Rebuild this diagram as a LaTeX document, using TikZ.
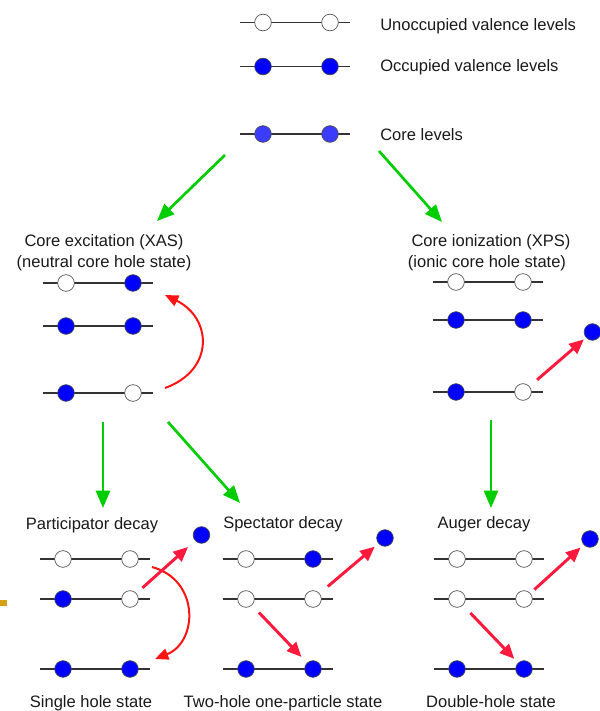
\documentclass[tikz,border=0pt]{standalone}
\usepackage{fontspec}
\setmainfont{Liberation Sans}
\usepackage{tikz}
\usetikzlibrary{arrows.meta,calc}

\definecolor{occblue}{RGB}{0,0,255}
\definecolor{coreblue}{RGB}{60,60,255}
\definecolor{arrgreen}{RGB}{0,205,0}
\definecolor{arrred}{RGB}{255,25,60}
\definecolor{curvered}{RGB}{255,20,20}
\definecolor{strayorange}{RGB}{214,160,20}

\tikzset{
  lvl/.style={draw=black!80, line width=0.8pt},
  empty/.style={circle, draw=black!70, fill=white, line width=0.5pt, minimum size=12.5pt, inner sep=0pt},
  occ/.style={empty, fill=occblue},
  core/.style={empty, fill=coreblue},
  lbl/.style={font=\fontsize{12.4}{15}\selectfont, text=black!90, inner sep=0pt, anchor=base},
  greenarr/.style={arrgreen, line width=2pt, -{Triangle[length=13pt,width=10.5pt]}},
  redarr/.style={arrred, line width=2.2pt, -{Triangle[length=11pt,width=9.5pt]}},
  redcurve/.style={curvered, line width=1.5pt, -{Triangle[length=10pt,width=8.5pt]}},
}

% one level: line with two electron places
\newcommand{\levelrow}[5]{%
  \draw[lvl] ({#2-23.5},#3) -- ({#2+86.5},#3);
  \node[#4] (#1L) at (#2,#3) {};
  \node[#5] (#1R) at ({#2+67},#3) {};
}

\begin{document}
\begin{tikzpicture}[x=0.75pt, y=-0.75pt]
    \useasboundingbox (0,0) rectangle (600,711);

    % legend
    \levelrow{un}{263}{22.5}{empty}{empty}
    \levelrow{oc}{263}{66.5}{occ}{occ}
    \levelrow{co}{263}{134}{core}{core}
    \node[lbl, anchor=base west] (unT) at (380,30.5) {Unoccupied valence levels};
    \node[lbl, anchor=base west] (ocT) at (380,71) {Occupied valence levels};
    \node[lbl, anchor=base west] (coT) at (380,140) {Core levels};

    % core excitation
    \node[lbl] (xasT) at (104,246.5) {Core excitation (XAS)};
    \node[lbl] (xasS) at (104,267) {(neutral core hole state)};
    \levelrow{xa1}{66}{283}{empty}{occ}
    \levelrow{xa2}{66}{326}{occ}{occ}
    \levelrow{xa3}{66}{393}{occ}{empty}
    \coordinate (xaA) at (165,388);
    \coordinate (xaB) at (165,295);
    \draw[redcurve] (xaA) .. controls (215,370) and (212,318) .. (xaB);

    % core ionization
    \node[lbl] (xpsT) at (491,246.5) {Core ionization (XPS)};
    \node[lbl] (xpsS) at (487,267) {(ionic core hole state)};
    \levelrow{xp1}{456}{282}{empty}{empty}
    \levelrow{xp2}{456}{320}{occ}{occ}
    \levelrow{xp3}{456}{392}{occ}{empty}
    \node[occ] (xpE) at (592.5,332) {};
    \draw[redarr, shorten <=7.5pt, shorten >=2pt] (xp3R) -- (xpE);

    % participator decay
    \node[lbl] (paT) at (92,529) {Participator decay};
    \levelrow{pa1}{63}{559}{empty}{empty}
    \levelrow{pa2}{63}{599}{occ}{empty}
    \levelrow{pa3}{63}{669}{occ}{occ}
    \node[occ] (paE) at (201.5,535) {};
    \node[lbl] (paB) at (91,707) {Single hole state};
    \coordinate (paA) at (152,567);
    \coordinate (paC) at (155,659);
    \draw[redcurve] (paA) .. controls (200,580) and (198,642) .. (paC);
    \draw[redarr, shorten <=6pt, shorten >=7pt] (pa2R) -- (paE);

    % spectator decay
    \node[lbl] (spT) at (283,528.5) {Spectator decay};
    \levelrow{sp1}{246}{559}{empty}{occ}
    \levelrow{sp2}{246}{599}{empty}{empty}
    \levelrow{sp3}{246}{669}{occ}{occ}
    \node[occ] (spE) at (385,538) {};
    \node[lbl] (spB) at (283,707) {Two-hole one-particle state};
    \draw[redarr, shorten <=8pt, shorten >=3.5pt] (sp2R) -- (spE);
    \draw[redarr, shorten <=7.5pt, shorten >=6pt] (sp2L) -- (sp3R);

    % auger decay
    \node[lbl] (auT) at (484,528.5) {Auger decay};
    \levelrow{au1}{457}{559}{empty}{empty}
    \levelrow{au2}{457}{599}{empty}{empty}
    \levelrow{au3}{457}{669}{occ}{occ}
    \node[occ] (auE) at (590,539) {};
    \node[lbl] (auB) at (491,707) {Double-hole state};
    \draw[redarr, shorten <=4pt, shorten >=3pt] (au2R) -- (auE);
    \draw[redarr, shorten <=8pt, shorten >=4pt] (au2L) -- (au3R);

    % green process arrows
    \coordinate (g1a) at (225,155);  \coordinate (g1b) at (157,221);
    \coordinate (g2a) at (379,151);  \coordinate (g2b) at (442,222);
    \coordinate (g3a) at (103,422);  \coordinate (g3b) at (103,508);
    \coordinate (g4a) at (168,422);  \coordinate (g4b) at (240,503);
    \coordinate (g5a) at (491,420);  \coordinate (g5b) at (491,508);
    \draw[greenarr] (g1a) -- (g1b);
    \draw[greenarr] (g2a) -- (g2b);
    \draw[greenarr] (g3a) -- (g3b);
    \draw[greenarr] (g4a) -- (g4b);
    \draw[greenarr] (g5a) -- (g5b);

    % stray mark at the left edge
    \fill[strayorange] (0,600) rectangle (7,606);
\end{tikzpicture}
\end{document}
